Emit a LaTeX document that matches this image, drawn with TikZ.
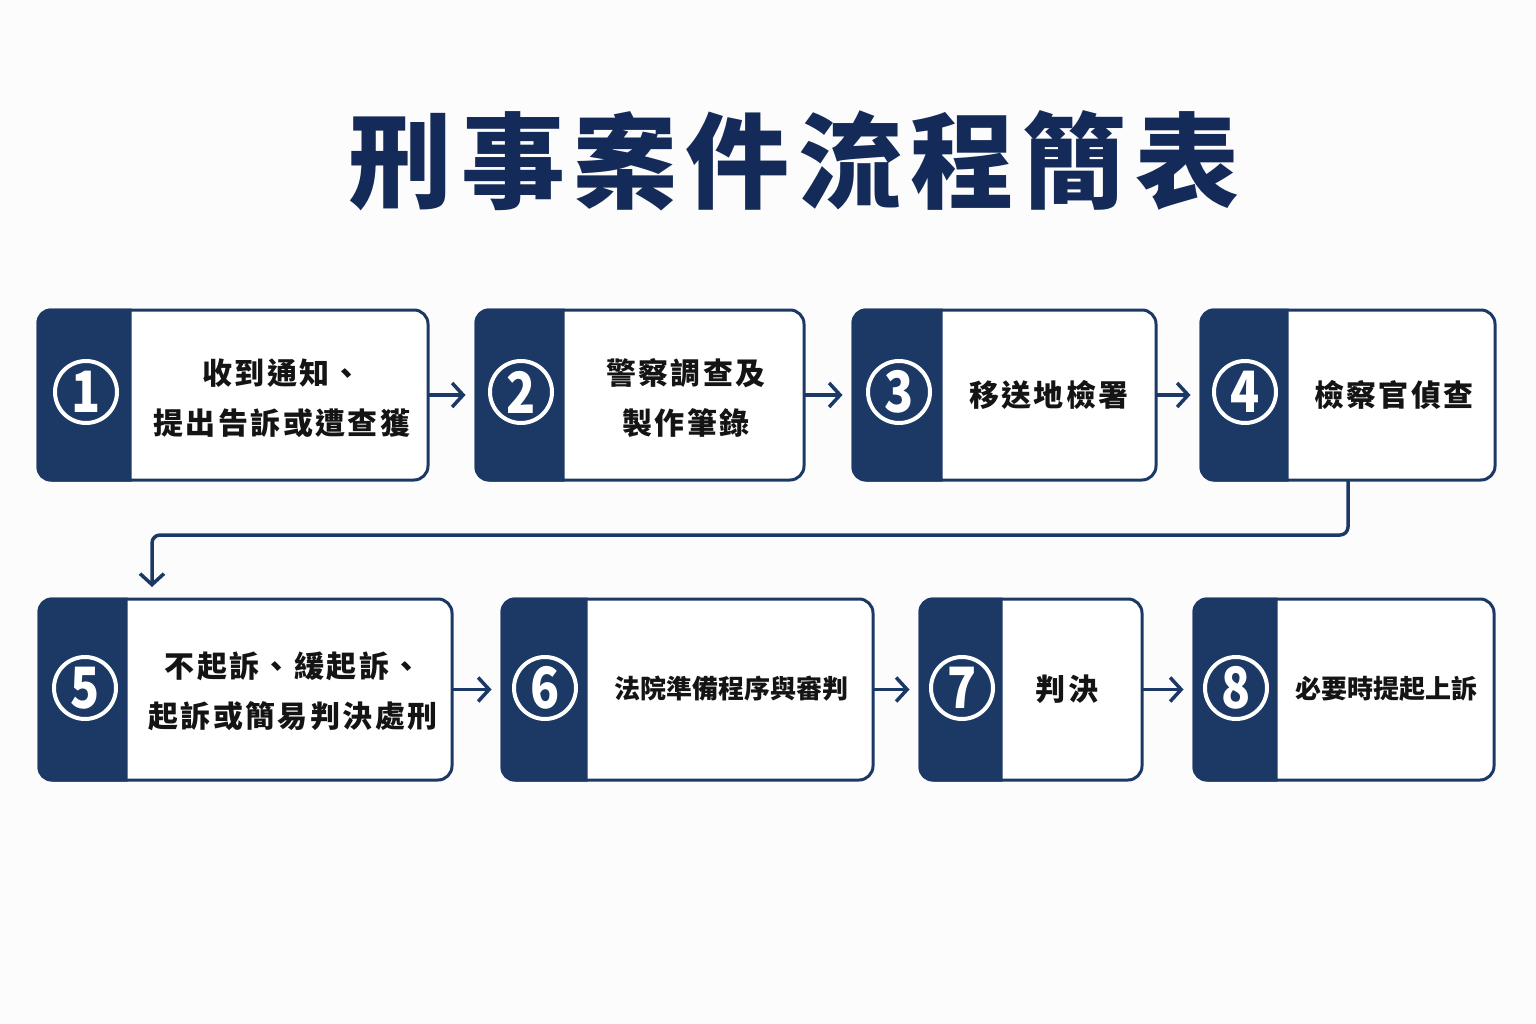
\documentclass[tikz,border=0pt]{standalone}
\usepackage{fontspec}
\setmainfont{Noto Sans CJK TC}
\newfontfamily\cjksp{Noto Sans CJK TC}[LetterSpace=8]
\newfontfamily\cjkt{Noto Sans CJK TC}[LetterSpace=8]
\usetikzlibrary{arrows.meta,calc}
\definecolor{navy}{HTML}{1C3966}
\definecolor{titlec}{HTML}{142A58}
\definecolor{ink}{HTML}{141414}
\definecolor{bgc}{HTML}{FCFCFD}
\newcommand{\nrw}[1]{\scalebox{0.84}[1]{#1}}
\begin{document}
\begin{tikzpicture}[x=1pt,y=-1pt,
  box/.style={draw=navy, line width=3pt, fill=white, rounded corners=14pt, inner sep=0pt},
  num/.style={circle, draw=white, line width=4pt, minimum size=62pt, inner sep=0pt, text=white,
    font=\fontsize{57}{57}\selectfont\bfseries},
  lbl/.style={align=center, text=ink, inner sep=0pt, font=\cjksp\fontsize{30}{50}\selectfont\bfseries},
  lbls/.style={align=center, text=ink, inner sep=0pt, font=\fontsize{26}{40}\selectfont\bfseries},
  arr/.style={draw=navy, line width=3.5pt, line cap=round, line join=round,
    -{Straight Barb[length=11pt,width=24pt]}, shorten >=9pt},
  ttl/.style={text=titlec, inner sep=0pt, font=\cjkt\fontsize{104}{104}\selectfont\bfseries}]
\fill[bgc] (0,0) rectangle (1536,1024);
\useasboundingbox (0,0) rectangle (1536,1024);

\node[ttl] (title) at (794,161) {刑事案件流程簡表};

% row 1 boxes
\node[box, minimum width=390pt, minimum height=170pt] (b1) at (233,395) {};
\node[box, minimum width=328pt, minimum height=170pt] (b2) at (640,395) {};
\node[box, minimum width=303pt, minimum height=170pt] (b3) at (1004.5,395) {};
\node[box, minimum width=294pt, minimum height=170pt] (b4) at (1348,395) {};
% row 2 boxes
\node[box, minimum width=413pt, minimum height=181pt] (b5) at (245.5,689.5) {};
\node[box, minimum width=371pt, minimum height=181pt] (b6) at (687.5,689.5) {};
\node[box, minimum width=222pt, minimum height=181pt] (b7) at (1031,689.5) {};
\node[box, minimum width=300pt, minimum height=181pt] (b8) at (1344,689.5) {};

% bands
\foreach \b/\w in {b1/95,b2/90,b3/91,b4/89,b5/90,b6/87,b7/84,b8/85}{
  \fill[navy] ([xshift=\w pt]\b.north west) [rounded corners=14pt] -- (\b.north west) -- (\b.south west)
    [sharp corners] -- ([xshift=\w pt]\b.south west) -- cycle;
}

% numbers
\node[num] (n1) at (86,392) {\nrw{1}};
\node[num] (n2) at (521,392) {\nrw{2}};
\node[num] (n3) at (899,392) {\nrw{3}};
\node[num] (n4) at (1245,392) {\nrw{4}};
\node[num] (n5) at (85,688) {\nrw{5}};
\node[num] (n6) at (545,688) {\nrw{6}};
\node[num] (n7) at (962,688) {\nrw{7}};
\node[num] (n8) at (1236,688) {\nrw{8}};

% labels
\node[lbl] (t1) at (282,398) {收到通知、\\提出告訴或遭查獲};
\node[lbl] (t2) at (686,398) {警察調查及\\製作筆錄};
\node[lbl] (t3) at (1049,395) {移送地檢署};
\node[lbl] (t4) at (1394,395) {檢察官偵查};
\node[lbl] (t5) at (293,691) {不起訴、緩起訴、\\起訴或簡易判決處刑};
\node[lbls] (t6) at (731,689) {法院準備程序與審判};
\node[lbl] (t7) at (1067,689) {判決};
\node[lbls] (t8) at (1386,689) {必要時提起上訴};

% connectors
\draw[arr] (b1.east) -- (b2.west);
\draw[arr] (b2.east) -- (b3.west);
\draw[arr] (b3.east) -- (b4.west);
\draw[arr] (b5.east) -- (b6.west);
\draw[arr] (b6.east) -- (b7.west);
\draw[arr] (b7.east) -- (b8.west);
\coordinate (turn) at (152,535);
\coordinate (c5) at (152,596);
\draw[arr, rounded corners=8pt] (b4.south) |- (turn) -- (c5);
\end{tikzpicture}
\end{document}
